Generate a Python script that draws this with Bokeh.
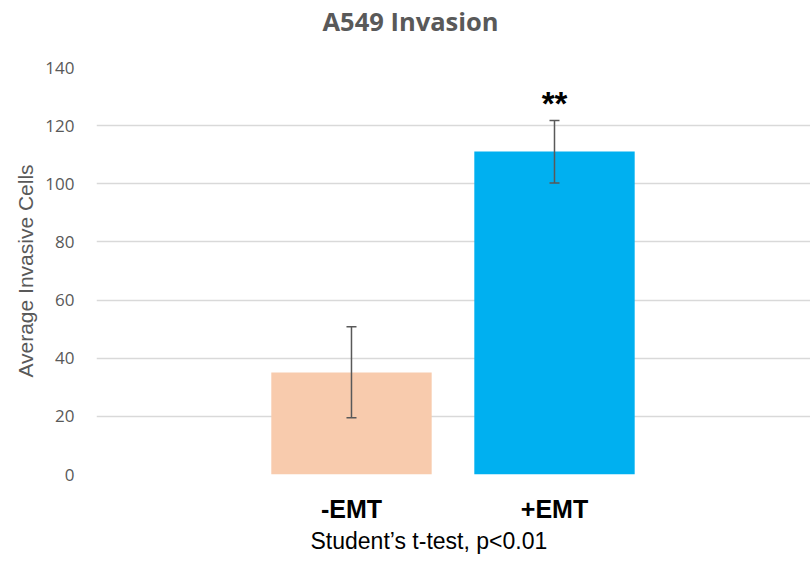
from bokeh.plotting import figure
from bokeh.models import ColumnDataSource, Range1d, FixedTicker, Whisker, Title
from bokeh.core.properties import value
from bokeh.embed import file_html
from bokeh.resources import INLINE

# ---- data ----
categories = ["-EMT", "+EMT"]
means = [35.1, 111.1]
err_low = [19.5, 100.3]
err_high = [50.8, 121.8]
bar_colors = ["#F8CBAD", "#00B0F0"]
significance = ["", "**"]
y_ticks = [0, 20, 40, 60, 80, 100, 120, 140]
title_text = "A549 Invasion"
y_label = "Average Invasive Cells"
footnote = "Student\u2019s t-test, p<0.01"

xs = list(range(1, len(categories) + 1))
src = ColumnDataSource(dict(x=xs, top=means, lo=err_low, hi=err_high,
                            color=bar_colors, sig=significance))

p = figure(width=810, height=580, output_backend="svg", toolbar_location=None,
           title_location=None,
           x_range=Range1d(-0.256, 3.261), y_range=Range1d(0, 140),
           min_border_left=96, min_border_right=0, min_border_top=67,
           min_border_bottom=106)
p.outline_line_color = None
p.background_fill_color = "white"

# spacer panel between frame and title, then the title itself
p.add_layout(Title(text=" ", text_font_size="1px", standoff=27), "above")
p.add_layout(Title(text=title_text, align="left", offset=226,
                   text_font="Open Sans", text_font_style="bold",
                   text_font_size="25.5px", text_color="#595959",
                   standoff=0), "above")

p.vbar(x="x", top="top", width=0.79, bottom=0, fill_color="color",
       line_color=None, source=src)

w = Whisker(base="x", lower="lo", upper="hi", source=src, level="overlay",
            line_color="#595959", line_width=1.5)
w.upper_head.size = 10
w.lower_head.size = 10
w.upper_head.line_color = "#595959"
w.lower_head.line_color = "#595959"
w.upper_head.line_width = 1.5
w.lower_head.line_width = 1.5
p.add_layout(w)

p.text(x="x", y="hi", text="sig", source=src, text_align="center",
       text_baseline="alphabetic", y_offset=-17,
       text_font=value("Liberation Sans"), text_font_style="bold",
       text_font_size="33px", text_color="black")

# y axis
p.yaxis.ticker = FixedTicker(ticks=y_ticks)
p.yaxis.axis_line_color = None
p.yaxis.major_tick_line_color = None
p.yaxis.minor_tick_line_color = None
p.yaxis.major_label_text_font = "Open Sans"
p.yaxis.major_label_text_font_size = "17px"
p.yaxis.major_label_text_color = "#595959"
p.yaxis.major_label_standoff = 16
p.yaxis.axis_label = y_label
p.yaxis.axis_label_text_font = "Liberation Sans"
p.yaxis.axis_label_text_font_style = "normal"
p.yaxis.axis_label_text_font_size = "21px"
p.yaxis.axis_label_text_color = "#595959"
p.yaxis.axis_label_standoff = 5

# x axis
p.xaxis.ticker = FixedTicker(ticks=xs)
p.xaxis.major_label_overrides = {x: c for x, c in zip(xs, categories)}
p.xaxis.axis_line_color = None
p.xaxis.major_tick_line_color = None
p.xaxis.minor_tick_line_color = None
p.xaxis.major_label_text_font = "Liberation Sans"
p.xaxis.major_label_text_font_style = "bold"
p.xaxis.major_label_text_font_size = "25px"
p.xaxis.major_label_text_color = "black"
p.xaxis.major_label_standoff = 14

p.xgrid.grid_line_color = None
p.ygrid.grid_line_color = "#D9D9D9"
p.ygrid.grid_line_width = 1.5

p.add_layout(Title(text=footnote, align="left", offset=214,
                   text_font="Liberation Sans", text_font_style="normal",
                   text_font_size="23px", text_color="black", standoff=0),
             "below")

open("out.html", "w").write(file_html(p, INLINE))
